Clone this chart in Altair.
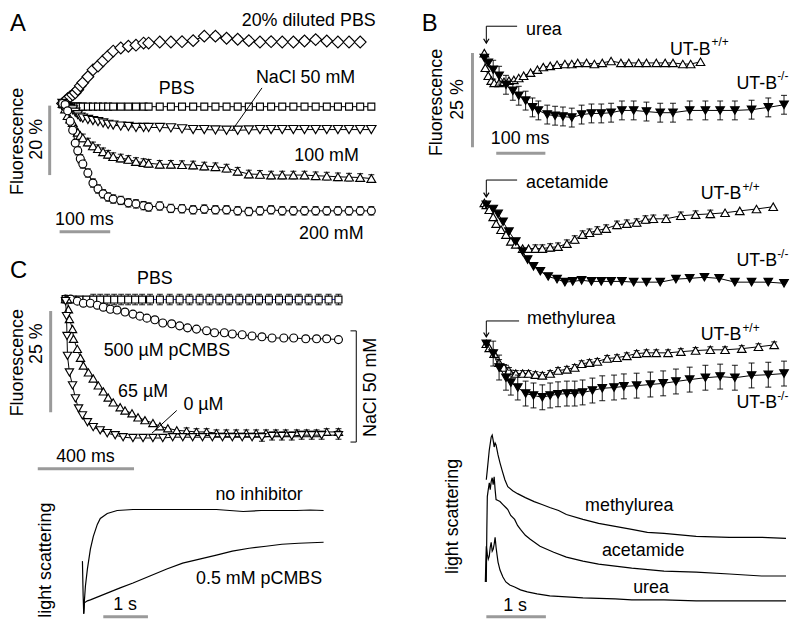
import altair as alt
import pandas as pd

FONT = "Liberation Sans"
GRAY = "#9a9a9a"

# ---------------- Panel A : time (ms), fluorescence change (%) ----------------
tA = [0, 5, 10, 15, 20, 25, 30, 35, 40, 50, 60, 70, 80, 90, 100, 115, 130, 145, 160,
      170, 192, 214, 236, 258, 280, 302, 324, 346, 368, 390, 412, 434, 456, 478, 500,
      522, 544, 566, 588, 610]
A_dil = [0.6, 1.3, 2.0, 2.6, 3.1, 3.7, 4.6, 5.7, 6.6, 8.3, 10.3, 11.4, 12.9, 14.3, 15.7,
         16.6, 17.1, 17.4, 18.0, 18.0, 18.3, 18.3, 18.4, 18.7, 20.0, 20.0, 19.4, 19.1,
         18.7, 18.3, 18.4, 18.3, 18.3, 18.6, 19.0, 18.6, 18.3, 18.3, 18.3, None]
A_pbs = [0.3, -0.1, -0.2, -0.3, -0.3, -0.3, -0.3, -0.3, -0.3, -0.3, -0.3, -0.3, -0.3,
         -0.3, -0.3, -0.3, -0.3, -0.3, -0.3, -0.3, -0.3, -0.3, -0.3, -0.3, -0.3, -0.3,
         -0.3, -0.3, -0.3, -0.3, -0.3, -0.3, -0.3, -0.3, -0.3, -0.3, -0.3, -0.3, -0.3, -0.3]
A_50 = [0.6, 0.0, -0.6, -0.9, -1.2, -1.9, -2.6, -3.3, -3.6, -4.0, -4.3, -4.6, -5.0, -5.4,
        -5.6, -5.9, -6.0, -6.3, -6.3, -6.3, -6.3, -6.4, -6.7, -6.9, -6.9, -7.0, -7.1,
        -7.1, -7.0, -6.9, -6.9, -6.9, -6.9, -6.9, -6.9, -6.9, -6.9, -6.9, -6.9, -6.9]
A_100 = [0.6, -1.0, -2.9, -3.9, -4.9, -6.6, -7.7, -8.6, -9.3, -10.5, -11.6, -12.4, -13.3,
         -14.0, -14.7, -15.1, -15.5, -16.1, -16.4, -16.6, -16.9, -16.9, -17.0, -17.1,
         -17.4, -17.6, -18.0, -18.9, -19.7, -19.8, -20.0, -20.0, -20.0, -20.0, -20.2,
         -20.3, -20.5, -20.6, -20.7, -21.0]
A_200 = [0.6, 0.3, -1.5, -4.5, -7.1, -10.8, -13.0, -15.3, -16.8, -19.4, -22.3, -24.0,
         -25.4, -26.3, -26.9, -27.3, -28.0, -28.3, -28.8, -29.2, -28.9, -29.6, -29.7,
         -30.0, -29.8, -30.0, -30.0, -30.3, -30.5, -30.3, -30.0, -30.3, -30.3, -30.3,
         -30.3, -30.3, -30.3, -30.3, -30.3, -30.3]

# ---------------- Panel C fluorescence : time (ms), % ----------------
C_sq_t = [0, 29, 58, 87, 115, 144, 173, 202, 231, 260, 289, 318, 351, 392, 433, 474, 515,
          557, 598, 639, 680, 722, 763, 804, 845, 887, 928, 969, 1010, 1052, 1093, 1134]
C_sq_v = [0.0, -0.1, -0.1, -0.1, -0.1, -0.1, -0.1, -0.1, -0.1, -0.1, -0.1, -0.1, -0.1,
          -0.1, -0.1, -0.1, -0.1, -0.1, -0.1, -0.1, -0.1, -0.1, -0.1, -0.1, -0.1, -0.1,
          -0.1, -0.1, -0.1, -0.1, -0.1, -0.1]
C_500_t = [0, 21, 49, 74, 103, 132, 157, 186, 214, 247, 280, 309, 338, 371, 404, 441, 474,
           507, 544, 586, 619, 660, 693, 734, 775, 816, 858, 907, 948, 998, 1043, 1085, 1134]
C_500_v = [0, 0, -0.5, -1.0, -1.0, -1.5, -2.0, -2.5, -2.7, -3.2, -3.7, -4.2, -4.7, -5.1,
           -5.9, -6.1, -6.6, -7.1, -7.4, -7.8, -8.3, -8.3, -8.6, -8.8, -9.1, -9.3, -9.6,
           -9.6, -9.6, -9.8, -9.8, -9.8, -10.0]
C_65_t = [0, 8, 12, 16, 29, 33, 49, 62, 74, 95, 115, 136, 157, 177, 198, 227, 247, 276, 301,
          330, 363, 392, 425, 462, 503, 544, 586, 627, 668, 709, 751, 792, 833, 874, 915,
          961, 1002, 1043, 1085, 1134]
C_65_v = [0, 0, -2.5, -4.9, -7.4, -9.8, -12.3, -14.5, -16.4, -18.1, -19.6, -21.3, -22.8,
          -24.3, -25.5, -26.7, -27.5, -28.2, -29.2, -29.9, -30.6, -31.4, -31.9, -32.4,
          -32.6, -32.8, -32.8, -33.1, -33.1, -33.1, -33.1, -33.1, -33.1, -33.1, -33.1,
          -33.1, -33.1, -33.1, -32.8, -32.8]
C_0_t = [0, 4, 6, 8, 16, 29, 41, 54, 70, 91, 115, 144, 173, 206, 239, 280, 322, 363, 404,
         445, 487, 528, 569, 610, 652, 693, 734, 775, 816, 858, 899, 940, 981, 1023, 1064, 1134]
C_0_v = [-0.5, -4.2, -9.1, -14.0, -18.1, -21.3, -24.5, -27.0, -28.7, -30.4, -31.6, -32.4,
         -33.1, -33.6, -34.1, -34.3, -34.3, -34.3, -34.3, -34.1, -34.1, -34.1, -34.1, -34.1,
         -34.1, -34.1, -34.1, -34.1, -34.1, -33.8, -33.8, -33.8, -33.6, -33.6, -33.6, -33.6]

# ---------------- Panel C light scattering : time (s), a.u. ----------------
C_noinh_t = [0, 0.016, 0.029, 0.044, 0.067, 0.111, 0.178, 0.244, 0.333, 0.4, 0.556, 0.778,
             1.133, 1.5, 2.0, 2.6, 3.0, 3.3, 3.6, 4.0, 4.4, 4.8, 5.1, 5.4]
C_noinh_v = [0.55, 0.20, 0.02, 0.15, 0.30, 0.47, 0.67, 0.80, 0.92, 0.98, 1.03, 1.06, 1.07,
             1.07, 1.07, 1.07, 1.07, 1.06, 1.05, 1.06, 1.06, 1.06, 1.065, 1.06]
C_pc_t = [0.029, 0.044, 0.111, 0.178, 0.4, 0.622, 0.844, 1.133, 1.511, 1.889, 2.244, 2.622,
          3.0, 3.356, 3.733, 4.111, 4.467, 4.844, 5.4]
C_pc_v = [0.02, 0.13, 0.15, 0.16, 0.20, 0.24, 0.28, 0.33, 0.40, 0.47, 0.53, 0.57, 0.61,
          0.65, 0.68, 0.70, 0.72, 0.73, 0.74]

# ---------------- Panel B : time (ms), % ----------------
B_u_wt_t = [0, 2, 8, 14, 20, 30, 40, 50, 60, 70, 80, 94, 108, 120, 134, 148, 164, 178, 190,
            208, 224, 240, 258, 278, 294, 314, 330, 350, 368, 384, 404, 420, 440]
B_u_wt_v = [0.5, -3.4, -5.5, -6.8, -7.4, -7.4, -7.1, -6.8, -6.6, -6.1, -5.5, -4.7, -3.9,
            -3.2, -2.9, -2.6, -2.4, -2.4, -2.1, -2.1, -2.4, -2.1, -1.6, -2.1, -2.1, -2.1,
            -2.1, -2.1, -2.1, -2.1, -2.4, -2.4, -1.8]
B_u_ko_t = [0, 8, 18, 30, 44, 58, 70, 84, 98, 110, 128, 144, 160, 178, 198, 218, 238, 258,
            280, 304, 330, 358, 384, 418, 450, 480, 510, 544, 578, 610]
B_u_ko_v = [-0.8, -2.1, -3.9, -5.5, -7.9, -9.5, -10.8, -12.1, -13.9, -14.7, -15.8, -16.1,
            -16.3, -16.6, -15.8, -15.5, -15.5, -15.3, -14.7, -14.7, -15.0, -15.3, -15.3,
            -14.7, -14.7, -14.7, -14.7, -14.5, -13.9, -13.2]
B_a_wt_t = [0, 4, 10, 18, 24, 34, 44, 54, 64, 78, 90, 104, 118, 134, 150, 168, 184, 200, 214,
            230, 248, 270, 290, 310, 328, 344, 370, 400, 430, 460, 490, 520, 554, 588]
B_a_wt_v = [0.5, 0, -1.3, -3.2, -5.0, -6.6, -7.9, -9.7, -10.5, -11.6, -11.6, -11.6, -11.6,
            -11.3, -11.1, -10.3, -9.2, -7.9, -7.4, -6.8, -6.3, -5.3, -5.0, -4.7, -3.9, -3.7,
            -3.7, -2.9, -2.6, -2.4, -2.1, -1.6, -1.1, -0.5]
B_a_ko_t = [4, 18, 28, 38, 50, 64, 78, 88, 100, 114, 130, 148, 164, 180, 198, 218, 238, 258,
            280, 304, 330, 358, 390, 418, 448, 478, 510, 544, 578, 610]
B_a_ko_v = [0, -1.1, -2.4, -4.5, -7.1, -9.7, -12.4, -14.5, -16.3, -17.6, -19.0, -19.7, -20.5,
            -20.3, -20.0, -20.3, -20.3, -20.3, -20.3, -20.5, -20.5, -20.5, -19.7, -19.5,
            -19.2, -19.5, -20.5, -20.5, -20.5, -20.8]
B_m_wt_t = [4, 10, 20, 30, 40, 50, 64, 78, 90, 104, 118, 134, 150, 168, 184, 198, 214, 230,
            250, 270, 290, 310, 330, 350, 374, 400, 430, 460, 490, 524, 558, 590]
B_m_wt_v = [0, -1.1, -2.6, -5.0, -6.3, -7.1, -7.9, -7.9, -7.9, -8.2, -8.4, -7.9, -7.1, -6.8,
            -6.3, -5.3, -5.0, -4.7, -3.9, -3.7, -3.2, -2.6, -2.4, -2.4, -2.4, -2.1, -1.8,
            -1.6, -1.6, -1.3, -0.8, -0.3]
B_m_ko_t = [4, 18, 30, 44, 54, 68, 84, 100, 118, 134, 150, 168, 184, 200, 220, 240, 264, 284,
            310, 338, 364, 390, 418, 450, 480, 510, 544, 578, 610]
B_m_ko_v = [0, -2.6, -6.3, -9.0, -10.3, -11.6, -13.2, -13.7, -14.2, -13.7, -13.4, -13.2,
            -13.2, -12.9, -12.4, -11.8, -11.6, -11.3, -11.1, -10.8, -10.5, -10.0, -9.5, -9.0,
            -8.7, -9.0, -8.4, -8.2, -7.9]

# ---------------- Panel B light scattering : time (s), a.u. ----------------
B_lm_t = [0.016, 0.033, 0.066, 0.098, 0.115, 0.131, 0.148, 0.164, 0.18, 0.213, 0.246, 0.279,
          0.328, 0.377, 0.459, 0.541, 0.672, 0.82, 0.951, 1.082, 1.23, 1.361, 1.639, 1.902,
          2.18, 2.459, 2.721, 3.0, 3.541, 4.098, 4.639, 5.049]
B_lm_v = [1.20, 1.30, 1.50, 1.63, 1.65, 1.60, 1.53, 1.57, 1.55, 1.45, 1.37, 1.30, 1.20, 1.13,
          1.09, 1.06, 1.02, 0.98, 0.95, 0.92, 0.89, 0.85, 0.80, 0.76, 0.73, 0.70, 0.67, 0.66,
          0.63, 0.62, 0.62, 0.61]
B_la_t = [0.016, 0.025, 0.033, 0.049, 0.066, 0.082, 0.098, 0.115, 0.131, 0.148, 0.164, 0.18,
          0.213, 0.246, 0.295, 0.344, 0.377, 0.426, 0.492, 0.541, 0.59, 0.672, 0.754, 0.918,
          1.148, 1.361, 1.639, 1.902, 2.459, 3.0, 3.541, 4.098, 4.639, 5.049]
B_la_v = [0.17, 0.70, 1.03, 1.10, 1.17, 1.10, 1.18, 1.22, 1.15, 1.23, 1.10, 1.00, 0.99, 0.98,
          0.95, 0.92, 0.90, 0.84, 0.80, 0.74, 0.70, 0.64, 0.60, 0.53, 0.47, 0.42, 0.38, 0.35,
          0.31, 0.28, 0.27, 0.25, 0.23, 0.23]
B_lu_t = [0, 0.008, 0.016, 0.033, 0.049, 0.066, 0.082, 0.098, 0.115, 0.131, 0.148, 0.164,
          0.18, 0.197, 0.213, 0.246, 0.295, 0.344, 0.41, 0.492, 0.59, 0.705, 0.869, 1.082,
          1.361, 1.639, 2.18, 2.459, 3.0, 3.541, 4.311, 5.049]
B_lu_v = [0.17, 0.37, 0.53, 0.45, 0.40, 0.43, 0.52, 0.57, 0.48, 0.50, 0.55, 0.62, 0.52, 0.44,
          0.37, 0.29, 0.22, 0.17, 0.14, 0.12, 0.09, 0.07, 0.05, 0.03, 0.02, 0.01, 0.0, -0.01,
          -0.01, -0.02, -0.02, -0.02]


def errs(ts, e, tmin=0.0, tmax=1e9):
    return [e if tmin <= t <= tmax else 0 for t in ts]


class Panel:
    """A panel without axes; its scale domains are set from the panel box and
    the pixel size of the scale bars (origin pixel, pixels per data unit)."""

    def __init__(self, rect, xmap, ymap):
        x0, x1, y0, y1 = rect
        ox, kx = xmap
        oy, ky = ymap
        self.w = x1 - x0
        self.h = y1 - y0
        self.xs = alt.Scale(domain=[(x0 - ox) / kx, (x1 - ox) / kx], nice=False, zero=False)
        self.ys = alt.Scale(domain=[(oy - y1) / ky, (oy - y0) / ky], nice=False, zero=False)
        self.layers = []

    def X(self, f="t"):
        return alt.X(f"{f}:Q", scale=self.xs, axis=None)

    def Y(self, f="v"):
        return alt.Y(f"{f}:Q", scale=self.ys, axis=None)

    def chart(self):
        return alt.layer(*self.layers).properties(width=self.w, height=self.h)


def series(p, t, v, shape, size, fill="white", err=None, line="black", cap=6, lw=1.0):
    d = {"t": t, "v": v}
    if err is not None:
        d["err"] = err
    df = pd.DataFrame(d).dropna(subset=["v"])
    base = alt.Chart(df)
    p.layers.append(base.mark_line(color=line, strokeWidth=lw).encode(x=p.X(), y=p.Y()))
    if err is not None:
        eb = base.transform_filter("datum.err > 0").transform_calculate(
            lo="datum.v - datum.err", hi="datum.v + datum.err")
        p.layers.append(eb.mark_rule(color="black", strokeWidth=0.9).encode(
            x=p.X(), y=p.Y("lo"), y2="hi:Q"))
        p.layers.append(eb.transform_fold(["lo", "hi"], as_=["k", "e"]).mark_point(
            shape="M-1,0L1,0", size=cap * cap, filled=False, stroke="black",
            strokeWidth=0.9, opacity=1).encode(x=p.X(), y=p.Y("e")))
    p.layers.append(base.mark_point(shape=shape, size=size, filled=True, fill=fill,
                                    stroke="black", strokeWidth=1.15, opacity=1).encode(
        x=p.X(), y=p.Y()))


def trace(p, t, v, lw=1.2):
    df = pd.DataFrame({"t": t, "v": v})
    p.layers.append(alt.Chart(df).mark_line(color="black", strokeWidth=lw).encode(
        x=p.X(), y=p.Y()))


def seg(p, t1, v1, t2, v2, color="black", w=1.0):
    df = pd.DataFrame({"t": [t1], "v": [v1], "t2": [t2], "v2": [v2]})
    p.layers.append(alt.Chart(df).mark_rule(color=color, strokeWidth=w).encode(
        x=p.X(), y=p.Y(), x2="t2:Q", y2="v2:Q"))


def label(p, t, v, text, size=18, align="center", angle=0, baseline="middle"):
    df = pd.DataFrame({"t": [t], "v": [v], "s": [text]})
    p.layers.append(alt.Chart(df).mark_text(
        font=FONT, fontSize=size, align=align, baseline=baseline, angle=angle,
        color="black").encode(x=p.X(), y=p.Y(), text="s:N"))


def arrow(p, tv, th, vtop, vbot):
    seg(p, tv, vtop, th, vtop)
    seg(p, tv, vtop, tv, vbot)
    df = pd.DataFrame({"t": [tv], "v": [vbot]})
    p.layers.append(alt.Chart(df).mark_point(
        shape="M-1,-1.6L0,0L1,-1.6", size=30, filled=False, stroke="black",
        strokeWidth=1.2, opacity=1).encode(x=p.X(), y=p.Y()))


def utb(p, t, v, ts, vs, sup):
    label(p, t, v, "UT-B", align="left")
    label(p, ts, vs, sup, size=12, align="left")


# ================= Panel A =================
pA = Panel((8, 400, 8, 245), (62, 0.51), (103, 3.5))
series(pA, tA, A_dil, "diamond", 140, err=errs(tA, 1.0, 290))
series(pA, tA, A_pbs, "square", 49)
series(pA, tA, A_50, "triangle-down", 90)
series(pA, tA, A_100, "triangle-up", 80, err=errs(tA, 1.1, 40))
series(pA, tA, A_200, "circle", 64, err=errs(tA, 1.2, 30))
label(pA, -103.9, 27.0, "A", size=24, align="left", baseline="top")
label(pA, 486.3, 24.3, "20% diluted PBS")
label(pA, 225.5, 4.9, "PBS")
label(pA, 480, 8.0, "NaCl 50 mM")
seg(pA, 394, 5.1, 335, -7.1)
label(pA, 521.6, -14.6, "100 mM")
label(pA, 531, -37.1, "200 mM")
label(pA, -88.2, -10.3, "Fluorescence", angle=270)
label(pA, -51, -9.7, "20 %", angle=270)
seg(pA, -25.5, 0, -25.5, -20, color=GRAY, w=3)
label(pA, 43, -32.9, "100 ms")
seg(pA, -5.9, -36.3, 94.1, -36.3, color=GRAY, w=3)

# ================= Panel C (fluorescence) =================
pC = Panel((8, 400, 245, 475), (65, 0.2425), (298, 4.08))
series(pC, C_sq_t, C_sq_v, "square", 49, err=errs(C_sq_t, 1.3, 100), line="#2b2bd9")
series(pC, C_500_t, C_500_v, "circle", 64, err=errs(C_500_t, 0.5, 100))
series(pC, C_65_t, C_65_v, "triangle-up", 70, err=errs(C_65_t, 0.8, 500))
series(pC, C_0_t, C_0_v, "triangle-down", 70, err=errs(C_0_t, 1.0, 800))
label(pC, -230.9, 9.8, "C", size=24, align="left", baseline="top")
label(pC, 371, 4.9, "PBS")
label(pC, -198, -15.7, "Fluorescence", angle=270)
label(pC, -119.6, -11.0, "25 %", angle=270)
seg(pC, -61.9, -2.94, -61.9, -27.94, color=GRAY, w=3)
label(pC, 421, -12.7, "500 \u00b5M pCMBS")
label(pC, 322, -23.0, "65 \u00b5M")
label(pC, 573, -26.2, "0 \u00b5M")
seg(pC, 462, -27.5, 359, -33.1)
seg(pC, 1208, -7.84, 1208, -35.3)
seg(pC, 1184, -7.84, 1208, -7.84)
seg(pC, 1184, -35.3, 1208, -35.3)
label(pC, 1270, -21.8, "NaCl  50 mM", angle=270)
label(pC, 82.5, -39.0, "400 ms")
seg(pC, -115.5, -41.9, 284.5, -41.9, color=GRAY, w=3)

# ================= Panel C (light scattering) =================
pCs = Panel((8, 400, 475, 621), (82, 45), (617, 100))
trace(pCs, C_noinh_t, C_noinh_v)
trace(pCs, C_pc_t, C_pc_v)
label(pCs, 3.956, 1.22, "no inhibitor")
label(pCs, 3.956, 0.37, "0.5 mM pCMBS")
label(pCs, -0.822, 0.56, "light scattering", angle=270)
label(pCs, 0.956, 0.11, "1 s")
seg(pCs, 0.467, -0.01, 1.467, -0.01, color=GRAY, w=3)

# ================= Panel B (urea) =================
pB1 = Panel((400, 792, 8, 170), (485, 0.495), (52, 3.8))
series(pB1, B_u_wt_t, B_u_wt_v, "triangle-up", 75)
series(pB1, B_u_ko_t, B_u_ko_v, "triangle-down", 75, fill="black",
       err=errs(B_u_ko_t, 2.5, 18))
label(pB1, -127.3, 11.45, "B", size=24, align="left", baseline="top")
arrow(pB1, 4.0, 66.7, 7.63, 3.16)
label(pB1, 84.8, 6.58, "urea", align="left")
utb(pB1, 377.8, 1.3, 462.6, 3.4, "+/+")
utb(pB1, 513.1, -7.63, 596, -5.53, "-/-")
label(pB1, -97, -12.6, "Fluorescence", angle=270)
label(pB1, -54.5, -11.8, "25 %", angle=270)
seg(pB1, -24.2, 0.53, -24.2, -24.47, color=GRAY, w=3)
label(pB1, 72.7, -22.4, "100 ms")
seg(pB1, 24.2, -26.05, 124.2, -26.05, color=GRAY, w=3)

# ================= Panel B (acetamide) =================
pB2 = Panel((400, 792, 170, 305), (485, 0.495), (203, 3.8))
series(pB2, B_a_wt_t, B_a_wt_v, "triangle-up", 75, err=errs(B_a_wt_t, 1.0, 100, 470))
series(pB2, B_a_ko_t, B_a_ko_v, "triangle-down", 75, fill="black")
arrow(pB2, 4.0, 66.7, 6.58, 2.1)
label(pB2, 84.8, 5.79, "acetamide", align="left")
utb(pB2, 440.4, 2.89, 525.3, 4.74, "+/+")
utb(pB2, 513.1, -15.0, 596, -13.16, "-/-")

# ================= Panel B (methylurea) =================
pB3 = Panel((400, 792, 305, 425), (485, 0.495), (343, 3.8))
series(pB3, B_m_wt_t, B_m_wt_v, "triangle-up", 75, err=errs(B_m_wt_t, 0.8, 20))
series(pB3, B_m_ko_t, B_m_ko_v, "triangle-down", 75, fill="black",
       err=errs(B_m_ko_t, 3.3, 18))
arrow(pB3, 4.0, 70.7, 6.05, 1.84)
label(pB3, 86.9, 6.58, "methylurea", align="left")
utb(pB3, 440.4, 2.37, 525.3, 4.21, "+/+")
utb(pB3, 513.1, -15.79, 596, -13.95, "-/-")

# ================= Panel B (light scattering) =================
pB4 = Panel((400, 792, 425, 621), (486, 60), (600, 100))
trace(pB4, B_lm_t, B_lm_v)
trace(pB4, B_la_t, B_la_v)
trace(pB4, B_lu_t, B_lu_v)
label(pB4, -0.55, 0.83, "light scattering", angle=270)
label(pB4, 2.417, 0.94, "methylurea")
label(pB4, 2.65, 0.48, "acetamide")
label(pB4, 2.783, 0.11, "urea")
label(pB4, 0.5, -0.07, "1 s")
seg(pB4, 0.0167, -0.18, 1.0167, -0.18, color=GRAY, w=3)

left = alt.vconcat(pA.chart(), pC.chart(), pCs.chart(), spacing=0, bounds="flush")
right = alt.vconcat(pB1.chart(), pB2.chart(), pB3.chart(), pB4.chart(),
                    spacing=0, bounds="flush")
chart = alt.hconcat(left, right, spacing=0).properties(
    padding=0, background="white").configure_view(stroke="transparent")

chart.save("out.html", embed_options={"renderer": "svg", "actions": False})
